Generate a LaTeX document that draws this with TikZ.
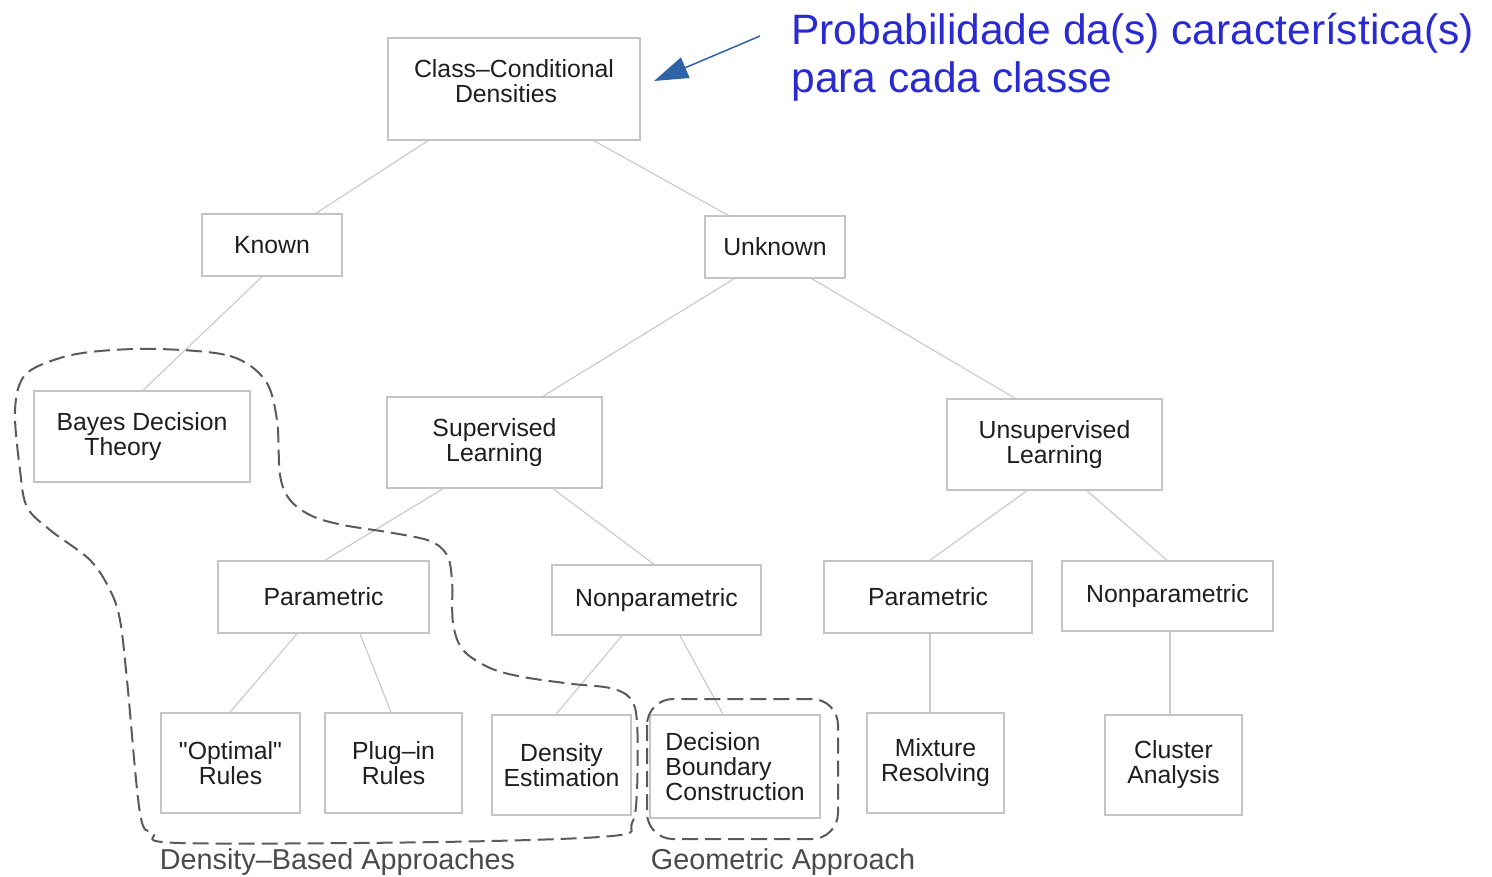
\documentclass[tikz,border=0pt]{standalone}
\usepackage{fontspec}
\setmainfont{Liberation Sans}[Ligatures=TeXOff]
\usetikzlibrary{arrows.meta}
\definecolor{boxline}{HTML}{C4C4C4}
\definecolor{linkline}{HTML}{C8C8C8}
\definecolor{boxtext}{HTML}{1E1E1E}
\definecolor{groupline}{HTML}{5A5A5A}
\definecolor{grouptext}{HTML}{4A4A4A}
\definecolor{notetext}{HTML}{2A2AD2}
\definecolor{notearrow}{HTML}{2F63A8}
\begin{document}
\begin{tikzpicture}[x=0.5pt,y=-0.5pt,
  box/.style={draw=boxline,line width=0.75pt,inner sep=0pt,align=center,
    text=boxtext,font=\fontsize{12.4}{12.5}\selectfont},
  link/.style={draw=linkline,line width=0.55pt},
  group/.style={draw=groupline,line width=1pt,dash pattern=on 8pt off 3.5pt},
  grouplabel/.style={anchor=base,inner sep=0pt,text=grouptext,
    font=\fontsize{14.4}{16}\selectfont}]
\useasboundingbox (0,0) rectangle (1492,877);

% tree boxes
\node[box,minimum width=126pt,minimum height=51pt] (ccd) at (514,89)
  {Class–Conditional\\Densities\kern8pt\\[-5pt]};
\node[box,minimum width=70pt,minimum height=31pt] (known) at (272,245) {Known};
\node[box,minimum width=70pt,minimum height=31pt] (unknown) at (775,247) {Unknown};
\node[box,minimum width=108pt,minimum height=45.5pt] (bayes) at (142,436.5)
  {Bayes Decision\\Theory\kern19pt};
\node[box,minimum width=107.5pt,minimum height=45.5pt] (sup) at (494.5,442.5)
  {Supervised\\Learning};
\node[box,minimum width=107.5pt,minimum height=45.5pt] (unsup) at (1054.5,444.5)
  {Unsupervised\\Learning};
\node[box,minimum width=105.5pt,minimum height=36pt] (parL) at (323.5,597) {Parametric};
\node[box,minimum width=104.5pt,minimum height=35pt] (nonL) at (656.5,600) {Nonparametric};
\node[box,minimum width=104pt,minimum height=36pt] (parR) at (928,597) {Parametric};
\node[box,minimum width=105.5pt,minimum height=35pt] (nonR) at (1167.5,596) {Nonparametric};
\node[box,minimum width=69.5pt,minimum height=50pt] (opt) at (230.5,763)
  {"Optimal"\\Rules};
\node[box,minimum width=68.5pt,minimum height=50pt] (plug) at (393.5,763)
  {Plug–in\\Rules};
\node[box,minimum width=69.5pt,minimum height=50pt] (dens) at (561.5,765)
  {Density\\Estimation};
\node[box,minimum width=85pt,minimum height=51.5pt,align=left] (dbc) at (735,766.5)
  {Decision\\Boundary\\Construction};
\node[box,minimum width=68.5pt,minimum height=50pt] (mix) at (935.5,763)
  {Mixture\\Resolving};
\node[box,minimum width=68.5pt,minimum height=50pt] (clus) at (1173.5,765)
  {Cluster\\Analysis};

% tree connectors
\draw[link] ([xshift=-43pt]ccd.south) -- ([xshift=22pt]known.north);
\draw[link] ([xshift=40pt]ccd.south) -- ([xshift=-23.5pt]unknown.north);
\draw[link] ([xshift=-5pt]known.south) -- ([xshift=0.5pt]bayes.north);
\draw[link] ([xshift=-20.5pt]unknown.south) -- ([xshift=24.25pt]sup.north);
\draw[link] ([xshift=18.5pt]unknown.south) -- ([xshift=-19.75pt]unsup.north);
\draw[link] ([xshift=-25.75pt]sup.south) -- ([xshift=0.75pt]parL.north);
\draw[link] ([xshift=29.25pt]sup.south) -- ([xshift=-1.25pt]nonL.north);
\draw[link] ([xshift=-13.75pt]unsup.south) -- ([xshift=1pt]parR.north);
\draw[link] ([xshift=16.25pt]unsup.south) -- ([xshift=-0.25pt]nonR.north);
\draw[link] ([xshift=-13.25pt]parL.south) -- ([xshift=-0.25pt]opt.north);
\draw[link] ([xshift=18.25pt]parL.south) -- ([xshift=-1.25pt]plug.north);
\draw[link] ([xshift=-17.25pt]nonL.south) -- ([xshift=-2.75pt]dens.north);
\draw[link] ([xshift=11.75pt]nonL.south) -- ([xshift=-6pt]dbc.north);
\draw[link] ([xshift=1pt]parR.south) -- ([xshift=-2.75pt]mix.north);
\draw[link] ([xshift=1.25pt]nonR.south) -- ([xshift=-1.75pt]clus.north);

% dashed outline around the density-based methods
\draw[group] plot[smooth cycle,tension=0.55] coordinates {
  (160,349) (230,356) (265,380) (277,420) (280,475) (290,500) (312,516)
  (343,525) (393,533) (430,541) (447,555) (452,580) (453,623) (463,650)
  (490,668) (523,677) (573,684) (610,688) (630,698) (637,722) (637,790)
  (632,823) (612,836) (440,842) (180,843) (153,833) (140,813) (127,680)
  (120,620) (110,590) (90,560) (50,530) (27,507) (20,470) (15,410)
  (25,375) (60,358) (100,351)};
% dashed outline around the geometric method
\draw[group,rounded corners=13pt] (647,699) rectangle (838,839);

\node[grouplabel] (dblabel) at (337.5,869) {Density–Based Approaches};
\node[grouplabel] (geolabel) at (783,869) {Geometric Approach};

% annotation
\node[anchor=north west,inner sep=0pt,align=left,text=notetext,
  font=\fontsize{21.25}{24}\selectfont] (note) at (791,12.7)
  {Probabilidade da(s) característica(s)\\para cada classe};
\coordinate (notefrom) at (760,36);
\coordinate (noteto) at (654,81);
\draw[draw=notearrow,line width=0.75pt,
  -{Triangle[length=17pt,width=11pt,fill=notearrow]}] (notefrom) -- (noteto);
\end{tikzpicture}
\end{document}
